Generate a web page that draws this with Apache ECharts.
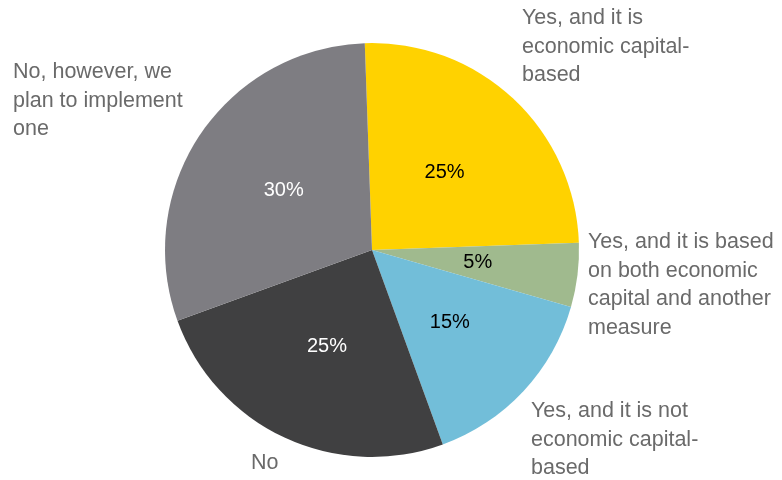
<!DOCTYPE html>
<html>
<head>
<meta charset="utf-8">
<script src="https://cdn.jsdelivr.net/npm/echarts@6/dist/echarts.min.js"></script>
<style>
  html, body { margin: 0; padding: 0; background: #ffffff; }
  #chart { width: 782px; height: 480px; }
</style>
</head>
<body>
<div id="chart"></div>
<script>
// Survey answers, in clockwise order from the top of the pie
const categories = [
  'Yes, and it is\neconomic capital-\nbased',
  'Yes, and it is based\non both economic\ncapital and another\nmeasure',
  'Yes, and it is not\neconomic capital-\nbased',
  'No',
  'No, however, we\nplan to implement\none'
];
const shares = [25, 5, 15, 25, 30];
const sliceColors = ['#FFD200', '#A0BA8E', '#72BED9', '#404041', '#7E7D82'];
const pctColors = ['#000000', '#000000', '#000000', '#ffffff', '#ffffff'];

// Where each category caption sits (left/top of the text block)
const captionSpots = [
  [522, 4], [588, 228], [531, 397], [251, 449], [13, 58]
];

const chart = echarts.init(document.getElementById('chart'));
const FONT = '"Liberation Sans", Arial, sans-serif';

const pieBase = {
  type: 'pie',
  center: [372, 250],
  radius: 207,
  startAngle: 92,
  clockwise: true,
  avoidLabelOverlap: false,
  animation: false,
  silent: true
};

chart.setOption({
  backgroundColor: '#ffffff',
  series: [
    Object.assign({}, pieBase, {
      data: shares.map((v, i) => ({
        name: categories[i],
        value: v,
        itemStyle: { color: sliceColors[i] },
        label: { color: pctColors[i] }
      })),
      itemStyle: { borderWidth: 0 },
      label: {
        show: true,
        position: 'inside',
        formatter: p => p.value + '%',
        fontFamily: FONT,
        fontSize: 20
      },
      labelLine: { show: false }
    }),
    Object.assign({}, pieBase, {
      data: shares.map((v, i) => ({ name: categories[i], value: v })),
      itemStyle: { color: 'rgba(0,0,0,0)', borderWidth: 0 },
      label: {
        show: true,
        position: 'outside',
        formatter: p => p.name,
        color: '#6a6a6a',
        fontFamily: FONT,
        fontSize: 21.5,
        lineHeight: 28.5,
        align: 'left'
      },
      labelLine: { show: false },
      labelLayout: p => ({
        x: captionSpots[p.dataIndex][0],
        y: captionSpots[p.dataIndex][1],
        align: 'left',
        verticalAlign: 'top'
      })
    })
  ]
});
</script>
</body>
</html>
